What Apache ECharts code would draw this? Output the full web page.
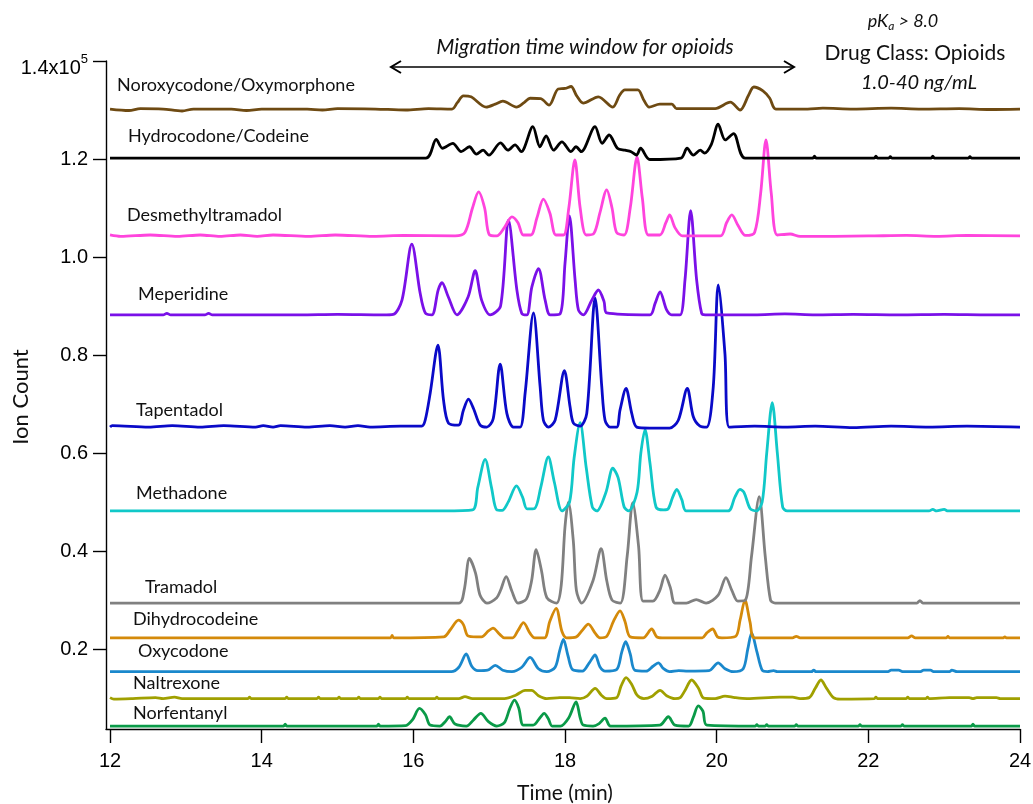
<!DOCTYPE html>
<html><head><meta charset="utf-8">
<script src="https://cdn.jsdelivr.net/npm/echarts@6/dist/echarts.min.js"></script>
<style>html,body{margin:0;padding:0;background:#fff}#c{width:1033px;height:804px}</style>
</head><body><div id="c"></div>
<script>
// ---- data (time in min, ion count in units of 1e5) ----
const xTicks = [12, 14, 16, 18, 20, 22, 24];
const yTicks = [0.2, 0.4, 0.6, 0.8, 1.0, 1.2, 1.4];
const traceNames = ['Noroxycodone/Oxymorphone','Hydrocodone/Codeine','Desmethyltramadol','Meperidine','Tapentadol','Methadone','Tramadol','Dihydrocodeine','Oxycodone','Naltrexone','Norfentanyl'];

const noroxycodone = [[12.0,1.302],[12.25,1.299],[12.4,1.303],[12.7,1.302],[12.95,1.298],[13.1,1.302],[13.6,1.302],[13.8,1.299],[14.0,1.302],[14.6,1.302],[14.8,1.300],[15.0,1.303],[15.5,1.302],[15.9,1.300],[16.2,1.303],[16.51,1.302],[16.58,1.315],[16.66,1.329],[16.76,1.327],[16.96,1.306],[17.08,1.312],[17.18,1.318],[17.36,1.306],[17.46,1.315],[17.54,1.324],[17.68,1.323],[17.79,1.310],[17.91,1.343],[18.0,1.344],[18.08,1.348],[18.15,1.33],[18.24,1.314],[18.44,1.327],[18.63,1.306],[18.72,1.33],[18.79,1.341],[18.96,1.341],[19.04,1.32],[19.11,1.306],[19.25,1.312],[19.41,1.312],[19.47,1.303],[19.98,1.303],[20.18,1.316],[20.31,1.300],[20.42,1.33],[20.49,1.347],[20.61,1.339],[20.70,1.324],[20.78,1.302],[21.2,1.302],[21.4,1.304],[21.8,1.302],[22.3,1.304],[22.7,1.302],[23.2,1.303],[23.6,1.301],[24,1.302]];

const hydrocodone = [[12,1.202],[16.165,1.202],[16.302,1.240],[16.384,1.222],[16.521,1.232],[16.630,1.215],[16.739,1.225],[16.832,1.210],[16.920,1.218],[16.996,1.208],[17.149,1.233],[17.248,1.218],[17.341,1.229],[17.423,1.215],[17.576,1.266],[17.669,1.225],[17.751,1.247],[17.849,1.218],[17.959,1.235],[18.079,1.215],[18.144,1.225],[18.215,1.215],[18.396,1.266],[18.489,1.232],[18.582,1.249],[18.691,1.222],[18.790,1.218],[18.872,1.215],[18.943,1.208],[18.997,1.222],[19.118,1.199],[19.528,1.202],[19.610,1.222],[19.692,1.208],[19.784,1.218],[19.839,1.212],[19.93,1.23],[20.020,1.271],[20.113,1.239],[20.222,1.252],[20.375,1.202],[21.27,1.202],[21.29,1.206],[21.31,1.202],[22.08,1.202],[22.10,1.206],[22.12,1.202],[22.27,1.202],[22.29,1.205],[22.31,1.202],[22.83,1.202],[22.85,1.206],[22.87,1.202],[23.32,1.202],[23.34,1.205],[23.36,1.202],[24,1.202]];

const desmethyltramadol = [[12,1.045],[12.14,1.042],[12.53,1.045],[12.89,1.042],[13.19,1.045],[13.45,1.042],[13.72,1.045],[13.94,1.042],[14.15,1.045],[14.62,1.042],[14.97,1.045],[15.47,1.042],[15.87,1.044],[16.55,1.043],[16.68,1.05],[16.78,1.10],[16.86,1.133],[16.94,1.10],[17.0,1.046],[17.1,1.043],[17.2,1.06],[17.3,1.082],[17.38,1.07],[17.45,1.045],[17.55,1.045],[17.63,1.08],[17.715,1.118],[17.8,1.09],[17.88,1.045],[17.98,1.045],[18.05,1.10],[18.13,1.198],[18.2,1.10],[18.28,1.045],[18.38,1.048],[18.46,1.09],[18.55,1.137],[18.62,1.10],[18.68,1.05],[18.78,1.045],[18.86,1.10],[18.95,1.204],[19.02,1.12],[19.1,1.045],[19.25,1.045],[19.33,1.07],[19.38,1.086],[19.45,1.06],[19.55,1.043],[20.05,1.043],[20.13,1.07],[20.2,1.086],[20.28,1.065],[20.38,1.044],[20.5,1.05],[20.58,1.13],[20.65,1.239],[20.72,1.13],[20.8,1.045],[20.97,1.047],[21.1,1.042],[22.0,1.043],[22.5,1.044],[22.9,1.042],[23.3,1.044],[24,1.043]];

const meperidine = [[12,0.882],[12.7,0.882],[12.75,0.885],[12.8,0.882],[13.25,0.882],[13.3,0.885],[13.35,0.882],[14.5,0.882],[15.0,0.883],[15.6,0.882],[15.735,0.883],[15.85,0.912],[15.98,1.0265],[16.09,0.926],[16.157,0.886],[16.245,0.882],[16.328,0.933],[16.377,0.9476],[16.46,0.919],[16.575,0.882],[16.723,0.919],[16.815,0.972],[16.9,0.912],[17.013,0.882],[17.15,0.90],[17.254,1.0755],[17.365,0.933],[17.43,0.885],[17.497,0.882],[17.563,0.939],[17.65,0.9765],[17.738,0.912],[17.804,0.882],[17.935,0.884],[18.0,0.987],[18.058,1.0837],[18.133,0.953],[18.177,0.892],[18.242,0.882],[18.353,0.912],[18.44,0.9327],[18.515,0.909],[18.55,0.886],[19.12,0.882],[19.187,0.905],[19.253,0.929],[19.34,0.892],[19.407,0.882],[19.517,0.882],[19.582,0.953],[19.657,1.0945],[19.736,0.953],[19.802,0.885],[19.85,0.882],[20.5,0.882],[20.9,0.884],[21.3,0.882],[21.8,0.883],[22.4,0.882],[23.0,0.883],[23.6,0.882],[24,0.882]];

const tapentadol = [[12,0.653],[12.03,0.656],[12.51,0.653],[12.82,0.656],[13.19,0.653],[13.5,0.656],[13.92,0.653],[14.02,0.656],[14.15,0.653],[14.25,0.656],[14.6,0.653],[14.9,0.656],[15.1,0.653],[15.27,0.656],[15.43,0.653],[15.83,0.655],[16.11,0.655],[16.156,0.667],[16.222,0.722],[16.324,0.8204],[16.398,0.708],[16.464,0.661],[16.595,0.657],[16.661,0.688],[16.727,0.7102],[16.793,0.691],[16.881,0.657],[16.97,0.653],[17.053,0.67],[17.145,0.7816],[17.233,0.681],[17.32,0.653],[17.408,0.653],[17.474,0.722],[17.584,0.886],[17.672,0.735],[17.715,0.667],[17.781,0.653],[17.87,0.667],[17.992,0.768],[18.067,0.694],[18.111,0.661],[18.199,0.655],[18.287,0.681],[18.397,0.916],[18.485,0.735],[18.528,0.667],[18.594,0.653],[18.682,0.653],[18.726,0.688],[18.805,0.732],[18.88,0.681],[18.946,0.653],[19.12,0.651],[19.38,0.651],[19.494,0.667],[19.613,0.732],[19.692,0.674],[19.78,0.655],[19.868,0.653],[19.955,0.735],[20.021,0.943],[20.109,0.803],[20.166,0.653],[20.5,0.655],[20.9,0.653],[21.3,0.655],[21.8,0.652],[22.3,0.655],[22.8,0.653],[23.3,0.655],[24,0.653]];

const methadone = [[12,0.482],[16.4,0.482],[16.78,0.484],[16.85,0.53],[16.947,0.587],[17.03,0.53],[17.1,0.484],[17.17,0.483],[17.25,0.5],[17.36,0.533],[17.44,0.51],[17.5,0.486],[17.6,0.487],[17.68,0.53],[17.78,0.592],[17.86,0.54],[17.96,0.482],[18.06,0.5],[18.12,0.59],[18.199,0.662],[18.28,0.57],[18.36,0.49],[18.42,0.482],[18.54,0.52],[18.63,0.569],[18.7,0.55],[18.78,0.49],[18.84,0.482],[18.95,0.52],[19.0,0.6],[19.055,0.648],[19.12,0.58],[19.2,0.49],[19.3,0.484],[19.36,0.486],[19.42,0.51],[19.473,0.526],[19.54,0.505],[19.6,0.482],[20.15,0.482],[20.24,0.51],[20.307,0.526],[20.36,0.52],[20.44,0.487],[20.52,0.482],[20.6,0.5],[20.66,0.6],[20.733,0.703],[20.8,0.6],[20.87,0.49],[20.93,0.482],[22.8,0.482],[22.85,0.485],[22.9,0.482],[23.0,0.485],[23.05,0.482],[24,0.482]];

const tramadol = [[12,0.294],[16.6,0.294],[16.67,0.32],[16.74,0.385],[16.82,0.355],[16.88,0.31],[16.97,0.294],[17.1,0.305],[17.15,0.32],[17.224,0.348],[17.3,0.318],[17.38,0.294],[17.49,0.302],[17.56,0.34],[17.62,0.403],[17.69,0.36],[17.76,0.305],[17.89,0.294],[17.95,0.33],[18.0,0.45],[18.045,0.50],[18.11,0.42],[18.15,0.32],[18.22,0.294],[18.37,0.34],[18.476,0.405],[18.55,0.34],[18.62,0.3],[18.73,0.294],[18.82,0.39],[18.893,0.499],[18.97,0.41],[19.03,0.298],[19.16,0.298],[19.25,0.32],[19.319,0.351],[19.39,0.325],[19.45,0.294],[19.6,0.294],[19.73,0.301],[19.86,0.294],[20.02,0.31],[20.122,0.346],[20.2,0.32],[20.28,0.298],[20.38,0.3],[20.46,0.39],[20.561,0.511],[20.64,0.39],[20.71,0.3],[20.77,0.294],[22.64,0.294],[22.68,0.299],[22.72,0.294],[24,0.294]];

const dihydrocodeine = [[12,0.223],[15.7,0.223],[15.72,0.228],[15.74,0.223],[16.4,0.225],[16.49,0.24],[16.595,0.259],[16.66,0.25],[16.72,0.227],[16.83,0.225],[16.9,0.225],[16.99,0.237],[17.05,0.243],[17.14,0.23],[17.2,0.223],[17.31,0.223],[17.38,0.238],[17.452,0.254],[17.54,0.232],[17.6,0.223],[17.73,0.223],[17.8,0.257],[17.883,0.283],[17.96,0.236],[18.02,0.223],[18.15,0.225],[18.22,0.237],[18.308,0.251],[18.4,0.232],[18.46,0.223],[18.55,0.226],[18.64,0.257],[18.726,0.278],[18.79,0.257],[18.86,0.225],[19.03,0.223],[19.143,0.241],[19.21,0.225],[19.28,0.223],[19.81,0.223],[19.87,0.233],[19.947,0.241],[20.01,0.225],[20.07,0.223],[20.25,0.226],[20.31,0.26],[20.373,0.30],[20.44,0.255],[20.5,0.223],[21.0,0.223],[21.05,0.226],[21.1,0.223],[22.52,0.223],[22.57,0.227],[22.62,0.223],[23.03,0.223],[23.05,0.226],[23.07,0.223],[23.78,0.223],[23.8,0.225],[23.82,0.223],[24,0.223]];

const oxycodone = [[12,0.154],[16.5,0.154],[16.6,0.163],[16.697,0.19],[16.77,0.165],[16.85,0.156],[16.98,0.157],[17.08,0.167],[17.18,0.157],[17.3,0.154],[17.43,0.163],[17.54,0.183],[17.65,0.16],[17.76,0.154],[17.87,0.163],[17.93,0.197],[17.979,0.22],[18.04,0.186],[18.1,0.158],[18.23,0.155],[18.32,0.172],[18.397,0.188],[18.46,0.164],[18.53,0.155],[18.68,0.158],[18.75,0.195],[18.80,0.215],[18.86,0.19],[18.92,0.157],[19.07,0.155],[19.16,0.165],[19.23,0.172],[19.3,0.16],[19.38,0.154],[19.5,0.156],[19.62,0.155],[19.9,0.156],[20.02,0.172],[20.11,0.16],[20.22,0.154],[20.35,0.16],[20.41,0.2],[20.461,0.233],[20.53,0.195],[20.6,0.157],[20.67,0.154],[20.75,0.156],[20.8,0.154],[21.25,0.154],[21.28,0.157],[21.31,0.154],[22.26,0.154],[22.3,0.157],[22.4,0.157],[22.46,0.154],[22.68,0.154],[22.73,0.157],[22.82,0.157],[22.86,0.154],[23.07,0.154],[23.1,0.157],[23.17,0.154],[24,0.154]];

const naltrexone = [[12,0.101],[12.05,0.098],[12.3,0.099],[12.6,0.101],[12.7,0.099],[12.85,0.102],[12.95,0.099],[13.82,0.099],[13.84,0.102],[13.86,0.099],[14.31,0.099],[14.33,0.102],[14.35,0.099],[14.73,0.099],[14.75,0.102],[14.77,0.099],[15.0,0.099],[15.02,0.102],[15.04,0.099],[15.26,0.099],[15.28,0.102],[15.3,0.099],[15.54,0.099],[15.56,0.102],[15.58,0.099],[15.9,0.099],[15.92,0.102],[15.94,0.099],[16.29,0.099],[16.31,0.102],[16.33,0.099],[16.6,0.099],[16.68,0.103],[16.78,0.099],[17.2,0.099],[17.35,0.106],[17.474,0.116],[17.56,0.116],[17.65,0.105],[17.76,0.099],[17.93,0.101],[18.06,0.101],[18.2,0.099],[18.29,0.104],[18.397,0.12],[18.48,0.106],[18.55,0.099],[18.68,0.101],[18.74,0.125],[18.805,0.142],[18.88,0.128],[18.95,0.106],[19.04,0.099],[19.15,0.104],[19.253,0.116],[19.34,0.105],[19.45,0.099],[19.52,0.101],[19.58,0.115],[19.67,0.137],[19.76,0.12],[19.83,0.1],[19.98,0.099],[20.11,0.104],[20.24,0.101],[20.4,0.099],[20.83,0.102],[21.0,0.102],[21.1,0.099],[21.22,0.101],[21.3,0.12],[21.374,0.137],[21.45,0.12],[21.54,0.101],[21.63,0.098],[22.08,0.099],[22.1,0.102],[22.12,0.099],[22.5,0.099],[22.52,0.102],[22.54,0.099],[22.76,0.099],[22.78,0.102],[22.8,0.099],[23.07,0.101],[23.33,0.101],[23.38,0.099],[23.43,0.101],[23.69,0.101],[23.74,0.099],[24,0.099]];

const norfentanyl = [[12,0.043],[14.29,0.043],[14.31,0.047],[14.33,0.043],[15.52,0.043],[15.54,0.047],[15.56,0.043],[15.9,0.044],[15.99,0.056],[16.08,0.079],[16.16,0.066],[16.22,0.045],[16.35,0.043],[16.42,0.052],[16.477,0.062],[16.55,0.047],[16.7,0.043],[16.79,0.055],[16.89,0.069],[16.99,0.052],[17.1,0.043],[17.2,0.05],[17.27,0.078],[17.333,0.096],[17.39,0.08],[17.45,0.045],[17.58,0.045],[17.67,0.06],[17.725,0.069],[17.78,0.058],[17.83,0.043],[17.94,0.043],[18.05,0.06],[18.146,0.0925],[18.2,0.06],[18.24,0.045],[18.37,0.043],[18.45,0.048],[18.528,0.059],[18.6,0.043],[19.25,0.045],[19.363,0.062],[19.45,0.045],[19.63,0.043],[19.69,0.06],[19.757,0.084],[19.82,0.073],[19.87,0.045],[20.51,0.043],[20.53,0.046],[20.55,0.043],[20.64,0.043],[20.66,0.046],[20.68,0.043],[21.03,0.043],[21.05,0.046],[21.07,0.043],[21.87,0.043],[21.89,0.046],[21.91,0.043],[22.43,0.043],[22.45,0.046],[22.47,0.043],[23.36,0.043],[23.38,0.047],[23.4,0.043],[24,0.043]];

const traceData = [noroxycodone, hydrocodone, desmethyltramadol, meperidine, tapentadol, methadone, tramadol, dihydrocodeine, oxycodone, naltrexone, norfentanyl];

// ---- styling ----
const colors = ['#6E4A12','#000000','#FF44DD','#7A10E8','#0A0AC8','#10C8C8','#808080','#D48A0A','#1A88CC','#A0A000','#0A9A48'];
const labelPos = [[117,87],[128,138],[127,217],[138,296],[136,412],[136,495],[145,589],[133,621],[138,653],[133,685],[133,715]];
const txtFont = 'Lato';

const chart = echarts.init(document.getElementById('c'), null, {renderer: 'canvas'});

const series = traceData.map((d, i) => ({
  name: traceNames[i], type: 'line', data: d, showSymbol: false, symbol: 'none',
  smooth: 0.3, lineStyle: {color: colors[i], width: 2.8}, itemStyle: {color: colors[i]},
  animation: false, silent: true, z: 2 + (traceData.length - i)
}));

const graphics = traceNames.map((n, i) => ({
  type: 'text', left: labelPos[i][0], top: labelPos[i][1] - 11,
  style: {text: n, font: '18px ' + txtFont, fill: '#111'}
}));
graphics.push(
  {type:'text', x: 21, y: 397, rotation: Math.PI/2, style:{text:'Ion Count', font:'22px '+txtFont, fill:'#111', align:'center', verticalAlign:'middle'}},
  {type:'text', x: 565, y: 793, style:{text:'Time (min)', font:'21px '+txtFont, fill:'#111', align:'center', verticalAlign:'middle'}},
  {type:'text', x: 585, y: 47, style:{text:'Migration time window for opioids', font:'italic 21px '+txtFont, fill:'#111', align:'center', verticalAlign:'middle'}},
  {type:'line', shape:{x1:392, y1:67, x2:793, y2:67}, style:{stroke:'#000', lineWidth:1.5}},
  {type:'polyline', shape:{points:[[401,61],[391,67],[401,73]]}, style:{stroke:'#000', lineWidth:2, fill:null}},
  {type:'polyline', shape:{points:[[784,61],[794,67],[784,73]]}, style:{stroke:'#000', lineWidth:2, fill:null}},
  {type:'text', x: 903, y: 21, style:{text:'{i|pK}{s|a}{i| > 8.0}', align:'center', verticalAlign:'middle',
     rich:{i:{font:'italic 18px '+txtFont, fill:'#111'}, s:{font:'italic 12px '+txtFont, fill:'#111', padding:[10,0,0,0]}}}},
  {type:'text', x: 915, y: 53, style:{text:'Drug Class: Opioids', font:'21px '+txtFont, fill:'#111', align:'center', verticalAlign:'middle'}},
  {type:'text', x: 919, y: 83, style:{text:'1.0-40 ng/mL', font:'italic 20px '+txtFont, fill:'#111', align:'center', verticalAlign:'middle'}}
);

chart.setOption({
  backgroundColor: '#fff',
  animation: false,
  grid: {left: 106, right: 13, top: 61, bottom: 75, containLabel: false, outerBoundsMode: 'none'},
  xAxis: {
    type: 'value', min: 11.947, max: 24,
    splitLine: {show: false},
    axisLine: {show: true, lineStyle: {color: '#000', width: 1.4}},
    axisTick: {show: true, customValues: xTicks, length: 14, lineStyle: {color: '#000', width: 1.4}},
    axisLabel: {customValues: xTicks, margin: 22, fontSize: 20, fontFamily: 'Liberation Sans', color: '#000'}
  },
  yAxis: {
    type: 'value', min: 0.037, max: 1.4,
    splitLine: {show: false},
    axisLine: {show: true, lineStyle: {color: '#000', width: 1.4}},
    axisTick: {show: true, customValues: yTicks, length: 13, lineStyle: {color: '#000', width: 1.4}},
    axisLabel: {
      customValues: yTicks, margin: 18, color: '#000',
      formatter: v => Math.abs(v - 1.4) < 1e-6 ? '{t|1.4x10}{s|5}' : '{b|' + v.toFixed(1) + '}',
      rich: {
        b: {fontSize: 20, fontFamily: 'Liberation Sans', color: '#000'},
        t: {fontSize: 20, fontFamily: 'Liberation Sans', color: '#000', padding: [14, 0, 0, 0]},
        s: {fontSize: 13, fontFamily: 'Liberation Sans', color: '#000', padding: [0, 0, 4, 0]}
      }
    }
  },
  graphic: graphics,
  series: series
});
</script>
</body></html>
